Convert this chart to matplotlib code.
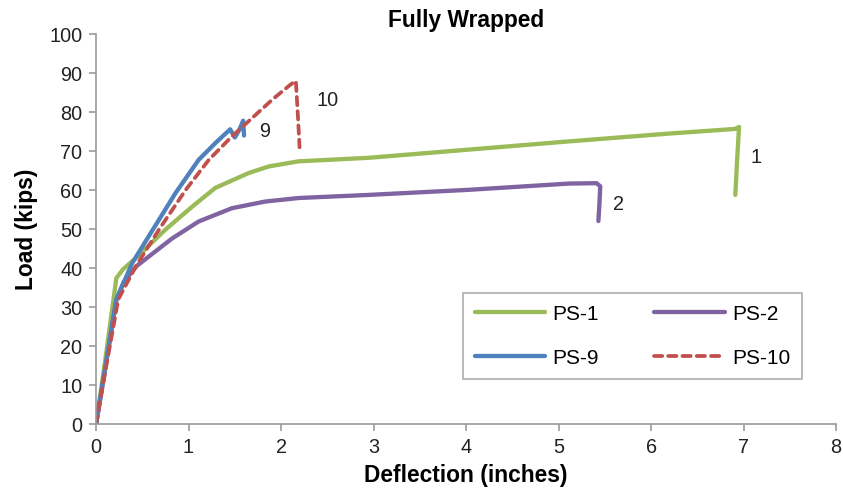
import matplotlib
matplotlib.use("Agg")
import matplotlib.pyplot as plt

plt.rcParams['font.family'] = ['Liberation Sans', 'DejaVu Sans']

# PS-1 (green)
ps1_x = [0.0, 0.10, 0.22, 0.29, 0.40, 0.50, 0.75, 1.04, 1.29, 1.65, 1.87, 2.19, 2.95, 4.03, 5.11, 6.19, 6.91, 6.95, 6.93, 6.91]
ps1_y = [0.0, 16.5, 37.5, 39.7, 42.0, 44.2, 49.9, 55.8, 60.6, 64.4, 66.1, 67.4, 68.3, 70.4, 72.5, 74.5, 75.7, 76.2, 68.0, 58.8]

# PS-2 (purple)
ps2_x = [0.0, 0.10, 0.22, 0.30, 0.44, 0.57, 0.82, 1.11, 1.47, 1.83, 2.19, 2.95, 4.03, 5.11, 5.41, 5.45, 5.44, 5.43]
ps2_y = [0.0, 14.5, 32.0, 36.5, 40.6, 43.0, 47.6, 52.0, 55.4, 57.1, 58.0, 58.8, 60.1, 61.7, 61.8, 61.0, 56.0, 52.1]

# PS-9 (blue)
ps9_x = [0.0, 0.10, 0.22, 0.39, 0.57, 0.86, 1.11, 1.30, 1.45, 1.50, 1.55, 1.59, 1.60]
ps9_y = [0.0, 14.5, 32.0, 41.3, 48.2, 59.3, 67.8, 72.3, 75.6, 73.5, 75.5, 77.8, 74.0]

# PS-10 (red dashed)
ps10_x = [0.0, 0.10, 0.24, 0.43, 0.68, 0.97, 1.22, 1.47, 1.91, 2.10, 2.16, 2.18, 2.20]
ps10_y = [0.0, 13.5, 32.0, 40.5, 49.9, 60.1, 67.8, 73.8, 83.3, 87.0, 88.0, 80.0, 71.0]

series_labels = ['PS-1', 'PS-2', 'PS-9', 'PS-10']
end_labels = ['1', '2', '9', '10']
end_label_pos = [(7.07, 68.5), (5.59, 56.4), (1.76, 75.0), (2.38, 83.0)]

x_ticks = list(range(0, 9))
y_ticks = list(range(0, 101, 10))

fig = plt.figure(figsize=(8.43, 4.98), dpi=100)
ax = fig.add_axes([0.1139, 0.1476, 0.8780, 0.7841])

green = '#9BBB59'
purple = '#8064A2'
blue = '#4F81BD'
red = '#C0504D'

l1, = ax.plot(ps1_x, ps1_y, color=green, lw=3.1, solid_capstyle='round', solid_joinstyle='round', label=series_labels[0])
l2, = ax.plot(ps2_x, ps2_y, color=purple, lw=3.1, solid_capstyle='round', solid_joinstyle='round', label=series_labels[1])
l9, = ax.plot(ps9_x, ps9_y, color=blue, lw=3.1, solid_capstyle='round', solid_joinstyle='round', label=series_labels[2])
l10, = ax.plot(ps10_x, ps10_y, color=red, lw=2.7, ls=(0, (2.2, 1.6)), dash_capstyle='round', label=series_labels[3])

for lab, (tx, ty) in zip(end_labels, end_label_pos):
    ax.text(tx, ty, lab, fontsize=14.3, ha='left', va='center', color='#222222')

ax.set_xlim(0, 8)
ax.set_ylim(0, 100)
ax.set_xticks(x_ticks)
ax.set_yticks(y_ticks)
for s in ['top', 'right']:
    ax.spines[s].set_visible(False)
for s in ['left', 'bottom']:
    ax.spines[s].set_color('#999999')
    ax.spines[s].set_linewidth(1.2)
ax.tick_params(axis='both', direction='out', length=5, width=1.2, color='#999999', labelsize=14.3, labelcolor='#222222', pad=5)

ax.set_xlabel('Deflection (inches)', fontsize=16.4, fontweight='bold', labelpad=5)
ax.set_ylabel('Load (kips)', fontsize=16.4, fontweight='bold', labelpad=8)
ax.set_title('Fully Wrapped', fontsize=16.4, fontweight='bold', pad=5)

leg = ax.legend([l1, l9, l2, l10], [series_labels[0], series_labels[2], series_labels[1], series_labels[3]],
                ncol=2, loc='center', bbox_to_anchor=(0.496, 0.114, 0.458, 0.225), mode='expand',
                frameon=True, fancybox=False, fontsize=15, handlelength=3.4, columnspacing=2.5,
                labelspacing=1.2, borderpad=0.55, handletextpad=0.35, borderaxespad=0)
leg.get_frame().set_edgecolor('#999999')
leg.get_frame().set_linewidth(1.2)
leg._legend_box.align = 'left'
for pk in leg._legend_handle_box.get_children():
    pass
leg._legend_box.sep = 0

fig.savefig('out.png', dpi=100)
